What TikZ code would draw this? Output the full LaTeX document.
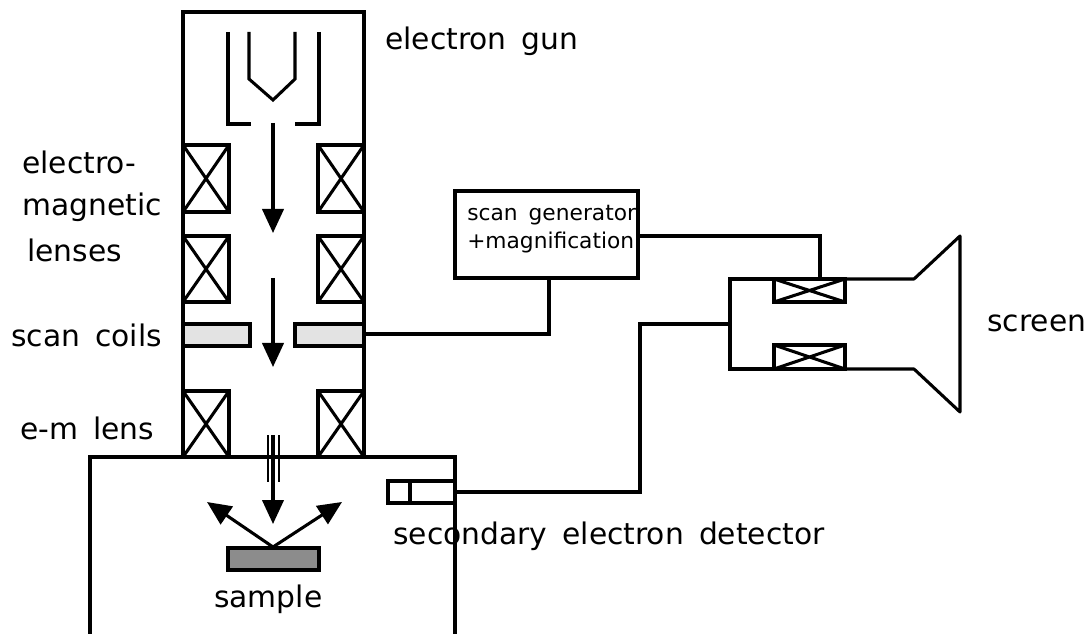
\documentclass[tikz,border=0pt]{standalone}
\usepackage{fontspec}
\setmainfont[WordSpace=1.6]{DejaVu Sans}
\usetikzlibrary{arrows.meta,calc}
\tikzset{
  ln/.style={line width=2.3pt,line join=miter,line cap=butt},
  boxn/.style={draw,line width=2.3pt,inner sep=0pt,outer sep=0pt,anchor=north west},
  lens/.style={boxn,path picture={\draw[line width=2.3pt]
      (path picture bounding box.north west)--(path picture bounding box.south east)
      (path picture bounding box.north east)--(path picture bounding box.south west);}},
  coil/.style={boxn,fill=black!11},
  beam/.style={line width=2.3pt,-{Triangle[length=18pt,width=16pt]}},
  lab/.style={anchor=base west,inner sep=0pt,font=\fontsize{22.3}{24}\selectfont},
  small/.style={anchor=base west,inner sep=0pt,font=\fontsize{16.3}{18}\selectfont},
}
\newcommand{\bx}[6][lens]{\node[#1,minimum width=#4*0.75pt,minimum height=#5*0.75pt] (#6) at (#2,#3) {};}
\begin{document}
\begin{tikzpicture}[x=0.75pt,y=-0.75pt]
\useasboundingbox (0,0) rectangle (1092,634);
% column
\coordinate (colBL) at (183,457);
\coordinate (colTL) at (183,12);
\coordinate (colTR) at (364,12);
\coordinate (colBR) at (364,457);
\draw[ln] (colBL)--(colTL)--(colTR)--(colBR);
% chamber
\coordinate (chBL) at (90,634);
\coordinate (chTL) at (90,457);
\coordinate (chTR) at (455,457);
\coordinate (chBR) at (455,634);
\draw[ln] (chBL)--(chTL)--(chTR)--(chBR);
% gun
\coordinate (w1) at (228,32); \coordinate (w2) at (228,124); \coordinate (w3) at (251,124);
\coordinate (w4) at (319,32); \coordinate (w5) at (319,124); \coordinate (w6) at (295,124);
\draw[ln] (w1)--(w2)--(w3);
\draw[ln] (w4)--(w5)--(w6);
\coordinate (f1) at (249,32); \coordinate (f2) at (249,79); \coordinate (f3) at (273,100);
\coordinate (f4) at (295,79); \coordinate (f5) at (295,32);
\draw[ln] (f1)--(f2)--(f3)--(f4)--(f5);
% lenses
\bx{183}{145}{46}{67}{l1}
\bx{318}{145}{46}{67}{r1}
\bx{183}{236}{46}{66}{l2}
\bx{318}{236}{46}{66}{r2}
\bx{183}{391}{46}{66}{l3}
\bx{318}{391}{46}{66}{r3}
% scan coils
\bx[coil]{183}{324}{67}{22}{sl}
\bx[coil]{295}{324}{69}{22}{sr}
% beam
\coordinate (b1) at (273,123); \coordinate (b1e) at (273,233);
\coordinate (b2) at (273,278); \coordinate (b2e) at (273,367);
\coordinate (b3) at (273,435); \coordinate (b3e) at (273,524);
\draw[beam] (b1)--(b1e);
\draw[beam] (b2)--(b2e);
\draw[beam] (b3)--(b3e);
\coordinate (t1) at (268,435); \coordinate (t1e) at (268,482);
\coordinate (t2) at (279,435); \coordinate (t2e) at (279,482);
\draw[ln,line width=1.7pt] (t1)--(t1e);
\draw[ln,line width=1.7pt] (t2)--(t2e);
% sample
\bx[boxn,fill=black!45]{228}{548}{91}{22}{sample}
\coordinate (hit) at (273,547);
\coordinate (scL) at (207,502); \coordinate (scR) at (342,502);
\draw[beam] (hit)--(scL);
\draw[beam] (hit)--(scR);
% detector
\bx[boxn]{388}{481}{67}{22}{det}
\coordinate (dv1) at (410,481); \coordinate (dv2) at (410,503);
\draw[ln] (dv1)--(dv2);
% scan generator
\bx[boxn]{455}{191}{183}{87}{gen}
% crt coils
\bx{774}{279}{71}{23}{c1}
\bx{774}{345}{71}{24}{c2}
% wires
\coordinate (j1) at (549,334);
\draw[ln] (gen.south -| j1)--(j1)--(sr.east |- j1);
\coordinate (j2) at (820,236);
\draw[ln] (gen.east |- j2)--(j2)--(j2 |- c1.north);
\coordinate (j3) at (730,279); \coordinate (j4) at (730,369); \coordinate (j5) at (730,324);
\draw[ln] (c1.north west)--(j3)--(j4)--(c2.south west);
\coordinate (j6) at (640,324);
\coordinate (j7) at (640,492);
\draw[ln] (j5)--(j6)--(j7)--(det.east);
% screen
\coordinate (s1) at (914,279); \coordinate (s2) at (960,236);
\coordinate (s3) at (960,412); \coordinate (s4) at (914,369);
\draw[ln,line join=round] (c1.north east)--(s1)--(s2)--(s3)--(s4)--(c2.south east);
% labels
\node[lab] (tgun) at (385,50) {electron gun};
\node[lab] (tem1) at (22,174) {electro-};
\node[lab] (tem2) at (22,216) {magnetic};
\node[lab] (tem3) at (27,262) {lenses};
\node[lab] (tsc) at (11,347) {scan coils};
\node[lab] (tel) at (20,439) {e-m lens};
\node[lab] (tdet) at (393,544) {secondary electron detector};
\node[lab] (tsam) at (214,607) {sample};
\node[lab] (tscr) at (987,332) {screen};
\node[small] (tg1) at (467,221) {scan generator};
\node[small] (tg2) at (467,249) {+magnification};
\end{tikzpicture}
\end{document}
